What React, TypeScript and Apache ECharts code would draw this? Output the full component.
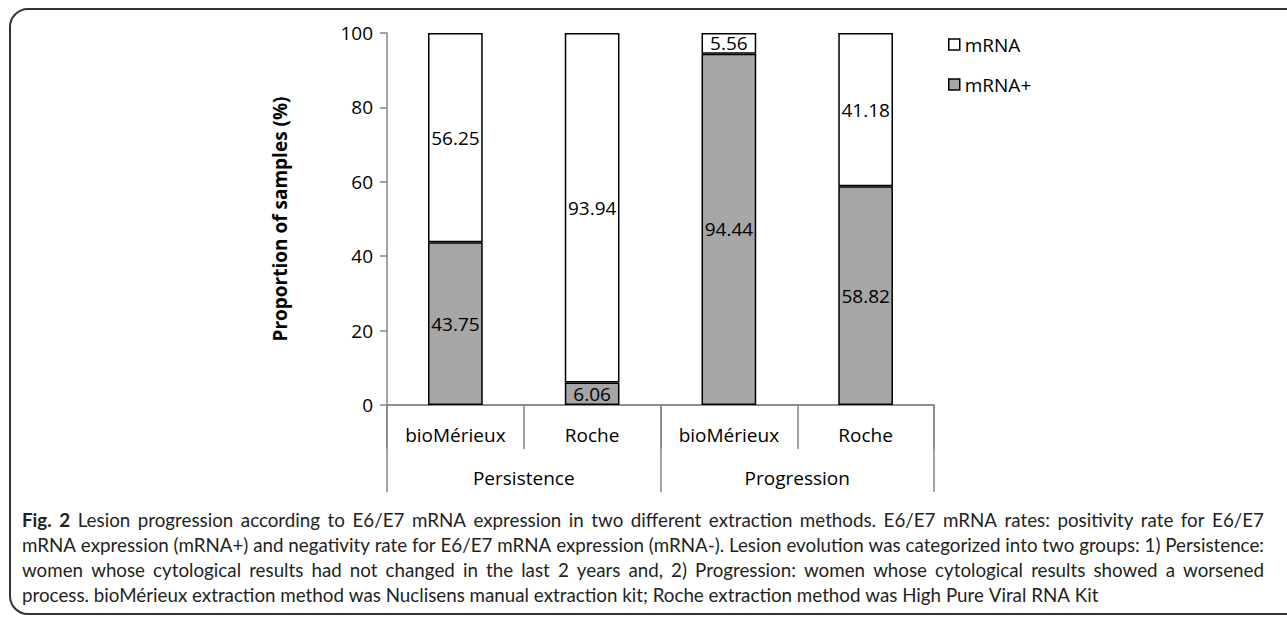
import React, { useEffect, useRef } from "react";
import * as echarts from "echarts";

const subCategories = ["bioMérieux", "Roche", "bioMérieux", "Roche"];
const groupCategories = ["Persistence", "Progression"];
const positiveValues = [43.75, 6.06, 94.44, 58.82];
const negativeValues = [56.25, 93.94, 5.56, 41.18];
const seriesNames = ["mRNA", "mRNA+"];
const yTicks = { min: 0, max: 100, interval: 20 };
const yAxisTitle = "Proportion of samples (%)";
const captionBold = "Fig. 2";
const captionLines = [
  "Lesion progression according to E6/E7 mRNA expression in two different extraction methods. E6/E7 mRNA rates: positivity rate for E6/E7",
  "mRNA expression (mRNA+) and negativity rate for E6/E7 mRNA expression (mRNA-). Lesion evolution was categorized into two groups: 1) Persistence:",
  "women whose cytological results had not changed in the last 2 years and, 2) Progression: women whose cytological results showed a worsened",
  "process. bioMérieux extraction method was Nuclisens manual extraction kit; Roche extraction method was High Pure Viral RNA Kit",
];

const FONT = "'Open Sans', 'Lato', sans-serif";
const CAPTION_FONT = "Lato, 'Open Sans', sans-serif";
const AXIS_COLOR = "#868686";
const CAPTION_COLOR = "#231f20";

function makeMeasurer() {
  const c = document.createElement("canvas").getContext("2d")!;
  return (text: string, size: number, weight: string) => {
    c.font = `${weight} ${size}px ${CAPTION_FONT}`;
    return c.measureText(text).width;
  };
}

export default function App() {
  const ref = useRef<HTMLDivElement>(null);
  useEffect(() => {
    if (!ref.current) return;
    const chart = echarts.init(ref.current, null, { renderer: "svg" });
    const gridLeft = 387;
    const gridTop = 33;
    const gridRight = 934;
    const gridBottom = 405;

    const measure = makeMeasurer();
    const captionX = 22;
    const captionWidth = 1242;
    const base = 20;
    const spaceW0 = measure(" ", base, "normal");
    const widths = captionLines.map((l, i) =>
      i === 0 ? measure(captionBold, base, "bold") + spaceW0 + measure(l, base, "normal") : measure(l, base, "normal")
    );
    const maxW = Math.max(...widths);
    const capSize = Math.min(20, (base * captionWidth) / maxW);

    // build justified caption word elements (last line left-aligned)
    const captionElements: any[] = [];
    captionLines.forEach((line, i) => {
      const y = 519 + i * 25;
      const words: { text: string; bold: boolean }[] = [];
      if (i === 0) {
        captionBold.split(" ").forEach((w) => words.push({ text: w, bold: true }));
      }
      line.split(" ").forEach((w) => words.push({ text: w, bold: false }));
      const ws = words.map((w) => measure(w.text, capSize, w.bold ? "bold" : "normal"));
      const total = ws.reduce((a, b) => a + b, 0);
      const normalSpace = measure(" ", capSize, "normal");
      const justify = i < captionLines.length - 1;
      const gap = justify ? (captionWidth - total) / (words.length - 1) : normalSpace;
      let x = captionX;
      words.forEach((w, k) => {
        captionElements.push({
          type: "text",
          x,
          y,
          silent: true,
          style: {
            text: w.text,
            fontFamily: CAPTION_FONT,
            fontSize: capSize,
            fontWeight: w.bold ? "bold" : "normal",
            fill: CAPTION_COLOR,
            verticalAlign: "middle",
            align: "left",
          },
        });
        x += ws[k] + gap;
      });
    });

    chart.setOption({
      animation: false,
      textStyle: { fontFamily: FONT },
      grid: {
        left: gridLeft,
        top: gridTop,
        width: gridRight - gridLeft,
        height: gridBottom - gridTop,
        containLabel: false,
      },
      legend: {
        orient: "vertical",
        left: 943,
        top: 30,
        itemWidth: 11,
        itemHeight: 11,
        itemGap: 21,
        icon: "rect",
        data: seriesNames,
        textStyle: { fontFamily: FONT, fontSize: 19, color: "#000" },
        itemStyle: { borderColor: "#000", borderWidth: 1.5 },
      },
      yAxis: {
        type: "value",
        min: yTicks.min,
        max: yTicks.max,
        interval: yTicks.interval,
        name: yAxisTitle,
        nameLocation: "middle",
        nameGap: 98,
        nameRotate: 90,
        nameTextStyle: { fontFamily: FONT, fontWeight: "bold", fontSize: 19, color: "#000" },
        axisLine: { show: true, lineStyle: { color: AXIS_COLOR, width: 1.5 } },
        axisTick: { show: true, length: 7, lineStyle: { color: AXIS_COLOR, width: 1.5 } },
        splitLine: { show: false },
        axisLabel: { fontSize: 19, color: "#000", margin: 14, fontFamily: FONT },
      },
      xAxis: [
        {
          type: "category",
          data: subCategories,
          position: "bottom",
          axisLine: { show: true, lineStyle: { color: AXIS_COLOR, width: 1.5 } },
          axisTick: {
            show: true,
            alignWithLabel: false,
            interval: 0,
            length: 44,
            lineStyle: { color: AXIS_COLOR, width: 1.5 },
          },
          axisLabel: {
            interval: 0,
            fontSize: 19,
            lineHeight: 20,
            margin: 20,
            color: "#000",
            fontFamily: FONT,
          },
        },
        {
          type: "category",
          data: groupCategories,
          position: "bottom",
          axisLine: { show: true, lineStyle: { color: AXIS_COLOR, width: 1.5 } },
          axisTick: {
            show: true,
            alignWithLabel: false,
            interval: 0,
            length: 87,
            lineStyle: { color: AXIS_COLOR, width: 1.5 },
          },
          axisLabel: {
            interval: 0,
            fontSize: 19,
            lineHeight: 20,
            margin: 63,
            color: "#000",
            fontFamily: FONT,
          },
        },
      ],
      series: [
        {
          name: "mRNA+",
          type: "bar",
          stack: "total",
          xAxisIndex: 0,
          barWidth: "40%",
          data: positiveValues,
          itemStyle: { color: "#a6a6a6", borderColor: "#000", borderWidth: 1.5 },
          label: {
            show: true,
            position: "inside",
            color: "#000",
            fontSize: 19,
            fontFamily: FONT,
            formatter: (p: any) => p.value.toFixed(2),
          },
        },
        {
          name: "mRNA",
          type: "bar",
          stack: "total",
          xAxisIndex: 0,
          barWidth: "40%",
          data: negativeValues,
          itemStyle: { color: "#ffffff", borderColor: "#000", borderWidth: 1.5 },
          label: {
            show: true,
            position: "inside",
            color: "#000",
            fontSize: 19,
            fontFamily: FONT,
            formatter: (p: any) => p.value.toFixed(2),
          },
        },
      ],
      graphic: [
        {
          type: "rect",
          shape: { x: 10, y: 9, width: 1320, height: 605, r: 18 },
          style: { fill: "none", stroke: "#333", lineWidth: 2 },
          silent: true,
        },
        ...captionElements,
      ],
    });
    return () => chart.dispose();
  }, []);
  return (
    <div
      ref={ref}
      style={{ position: "fixed", left: 0, top: 0, width: 1287, height: 617, background: "#fff" }}
    />
  );
}
